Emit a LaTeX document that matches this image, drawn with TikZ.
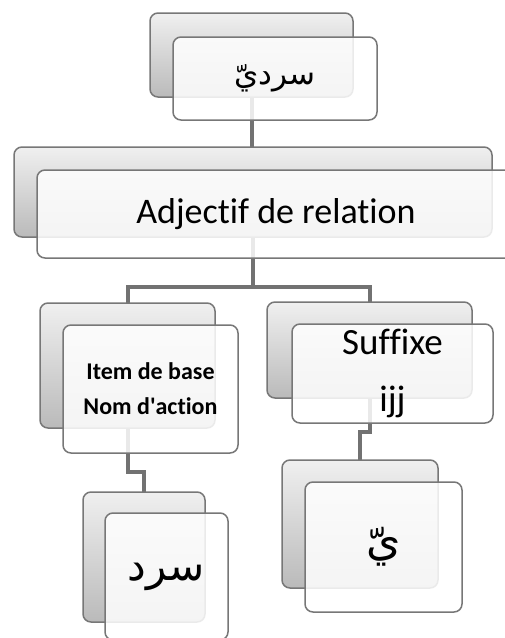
\documentclass[tikz,border=0pt]{standalone}
\usepackage{fontspec}
\setmainfont{Carlito}[Ligatures=NoCommon]
\newfontfamily\arabicfont[Script=Arabic]{DejaVu Sans}
\TeXXeTstate=1
\usetikzlibrary{backgrounds}
\definecolor{edgegray}{HTML}{777777}
\definecolor{linkgray}{HTML}{727272}
\tikzset{
  backbox/.style={rectangle, rounded corners=8pt, draw=edgegray, line width=1.5pt,
    top color=black!6, bottom color=black!27, inner sep=0pt, outer sep=0pt},
  frontbox/.style={rectangle, rounded corners=8pt, draw=edgegray, line width=1.5pt,
    fill=white, fill opacity=0.85, text opacity=1, inner sep=0pt, outer sep=0pt, align=center},
  link/.style={draw=linkgray, line width=4pt}
}
\begin{document}
\begin{tikzpicture}[x=1pt,y=-1pt]
\useasboundingbox (0,0) rectangle (504,638);
\node[backbox, minimum width=203pt, minimum height=84pt] (b0) at (251.5,55) {};
\node[frontbox, minimum width=204pt, minimum height=83pt, font=\arabicfont\fontsize{31}{36}\selectfont] (f0) at (275,78.5) {\beginR سرديّ\endR};
\node[backbox, minimum width=478pt, minimum height=90pt] (b1) at (253,192) {};
\node[frontbox, minimum width=478pt, minimum height=88pt, font=\fontsize{36}{42}\selectfont] (f1) at (276,214) {Adjectif de relation};
\node[backbox, minimum width=175pt, minimum height=125pt] (b2) at (127.5,365.5) {};
\node[frontbox, minimum width=175pt, minimum height=128pt, font=\bfseries\fontsize{24}{35}\selectfont] (f2) at (150.5,389) {Item de base\\Nom d\textquotesingle action};
\node[backbox, minimum width=205pt, minimum height=96pt] (b3) at (369.5,350) {};
\node[frontbox, minimum width=201pt, minimum height=99pt, font=\fontsize{37}{57}\selectfont] (f3) at (392.5,373.5) {Suffixe\\ijj};
\node[backbox, minimum width=122pt, minimum height=130pt] (b4) at (144,557) {};
\node[frontbox, minimum width=123pt, minimum height=127pt, font=\arabicfont\fontsize{42}{48}\selectfont] (f4) at (166.5,576.5) {\beginR سرد\endR};
\node[backbox, minimum width=156pt, minimum height=128pt] (b5) at (360,524) {};
\node[frontbox, minimum width=157pt, minimum height=130pt, font=\arabicfont\fontsize{44}{48}\selectfont] (f5) at (383.5,547) {\beginR يّ\endR};
\begin{scope}[on background layer]
\coordinate (j1) at (253,287);
\coordinate (j2) at (144,472);
\coordinate (j3) at (360,432);
\draw[link] (b0.south) -- (b0.south |- b1.north);
\draw[link] (b1.south) -- (j1);
\draw[link] (b2.north) |- (j1) -| (b3.north);
\draw[link] (b2.south) |- (j2) -- (b4.north);
\draw[link] (b3.south) |- (j3) -- (b5.north);
\end{scope}
\end{tikzpicture}
\end{document}
